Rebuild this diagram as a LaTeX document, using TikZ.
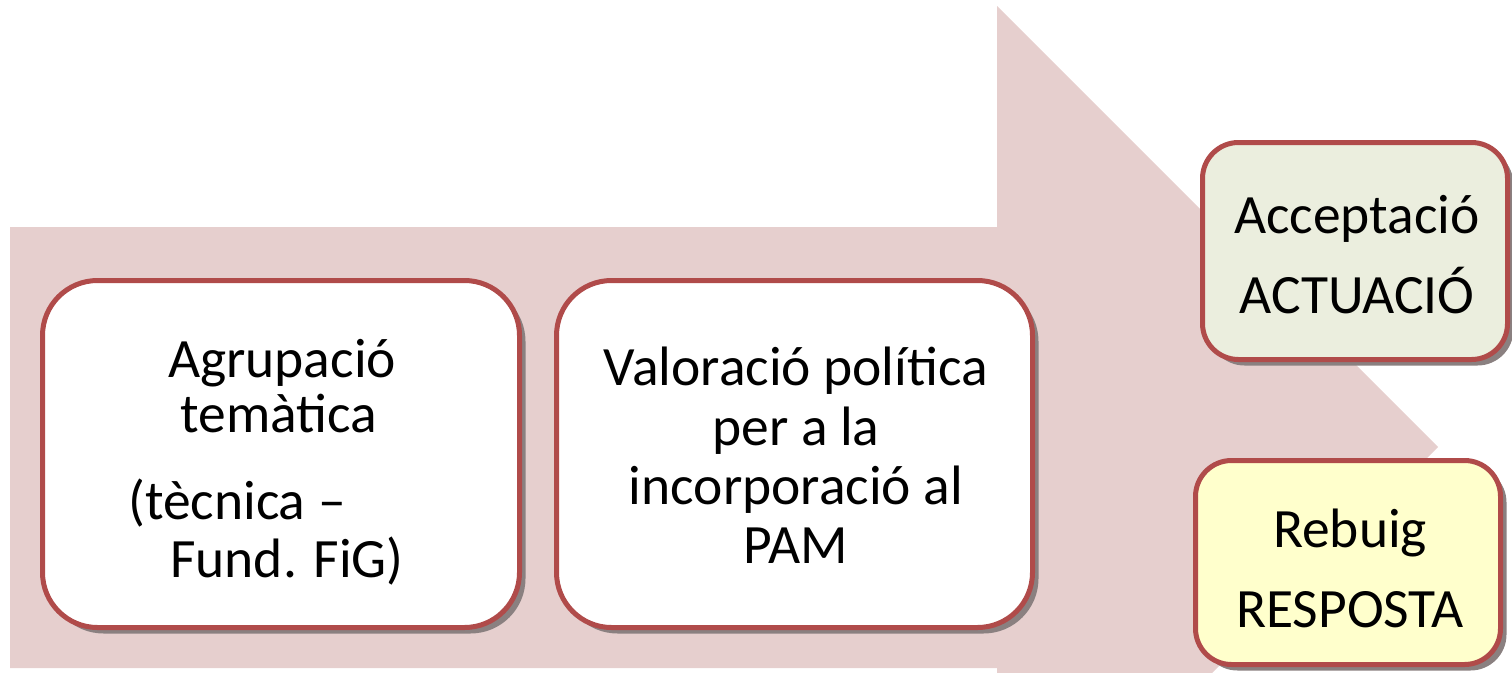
\documentclass[tikz,border=0pt]{standalone}
\usepackage{fontspec}
\setmainfont{Carlito}
\usetikzlibrary{shadows}
\definecolor{arrowfill}{HTML}{E6CFCE}
\definecolor{boxline}{HTML}{B04B4A}
\definecolor{shadowc}{HTML}{8A8080}
\definecolor{greenfill}{HTML}{EBEEDE}
\definecolor{yellowfill}{HTML}{FFFFCC}
\begin{document}
\begin{tikzpicture}[x=1pt,y=-1pt,
  card/.style={draw=boxline, line width=5pt, fill=white, inner sep=0pt, anchor=north west,
    drop shadow={shadow xshift=6pt, shadow yshift=-6pt, fill=shadowc, opacity=1}},
  bigcard/.style={card, rounded corners=55pt},
  smallcard/.style={card, rounded corners=36pt},
  txt/.style={font=\fontsize{55.5}{60}\selectfont, inner sep=0pt, anchor=base},
  txtl/.style={txt, anchor=base west}]
\useasboundingbox (0,0) rectangle (1512,672);
\clip (0,0) rectangle (1512,672);
% big arrow
\fill[arrowfill] (10,227) -- (997,227) -- (997,6) -- (1438,447) -- (997,888) -- (997,668) -- (10,668) -- cycle;
% boxes
\node[bigcard, minimum width=477pt, minimum height=347pt] (b1) at (40,278) {};
\node[bigcard, minimum width=476pt, minimum height=347pt] (b2) at (554,278) {};
\node[smallcard, fill=greenfill, minimum width=305pt, minimum height=217pt] (b3) at (1200,140) {};
\node[smallcard, fill=yellowfill, minimum width=305pt, minimum height=204pt] (b4) at (1193,458) {};
% texts box 1
\node[txt] (t1a) at (282,377) {Agrupació};
\node[txt] (t1b) at (279,432) {temàtica};
\node[txtl] (t1c) at (128,519) {(tècnica –};
\node[txtl] (t1d) at (170,577) {Fund. FiG)};
% texts box 2
\node[txt] (t2a) at (796,385) {Valoració política};
\node[txt] (t2b) at (796,445) {per a la};
\node[txt] (t2c) at (796,504) {incorporació al};
\node[txt] (t2d) at (796,563) {PAM};
% texts box 3
\node[txt] (t3a) at (1357,233) {Acceptació};
\node[txt] (t3b) at (1357,313) {ACTUACIÓ};
% texts box 4
\node[txt] (t4a) at (1350,547) {Rebuig};
\node[txt] (t4b) at (1350,627) {RESPOSTA};
\end{tikzpicture}
\end{document}
